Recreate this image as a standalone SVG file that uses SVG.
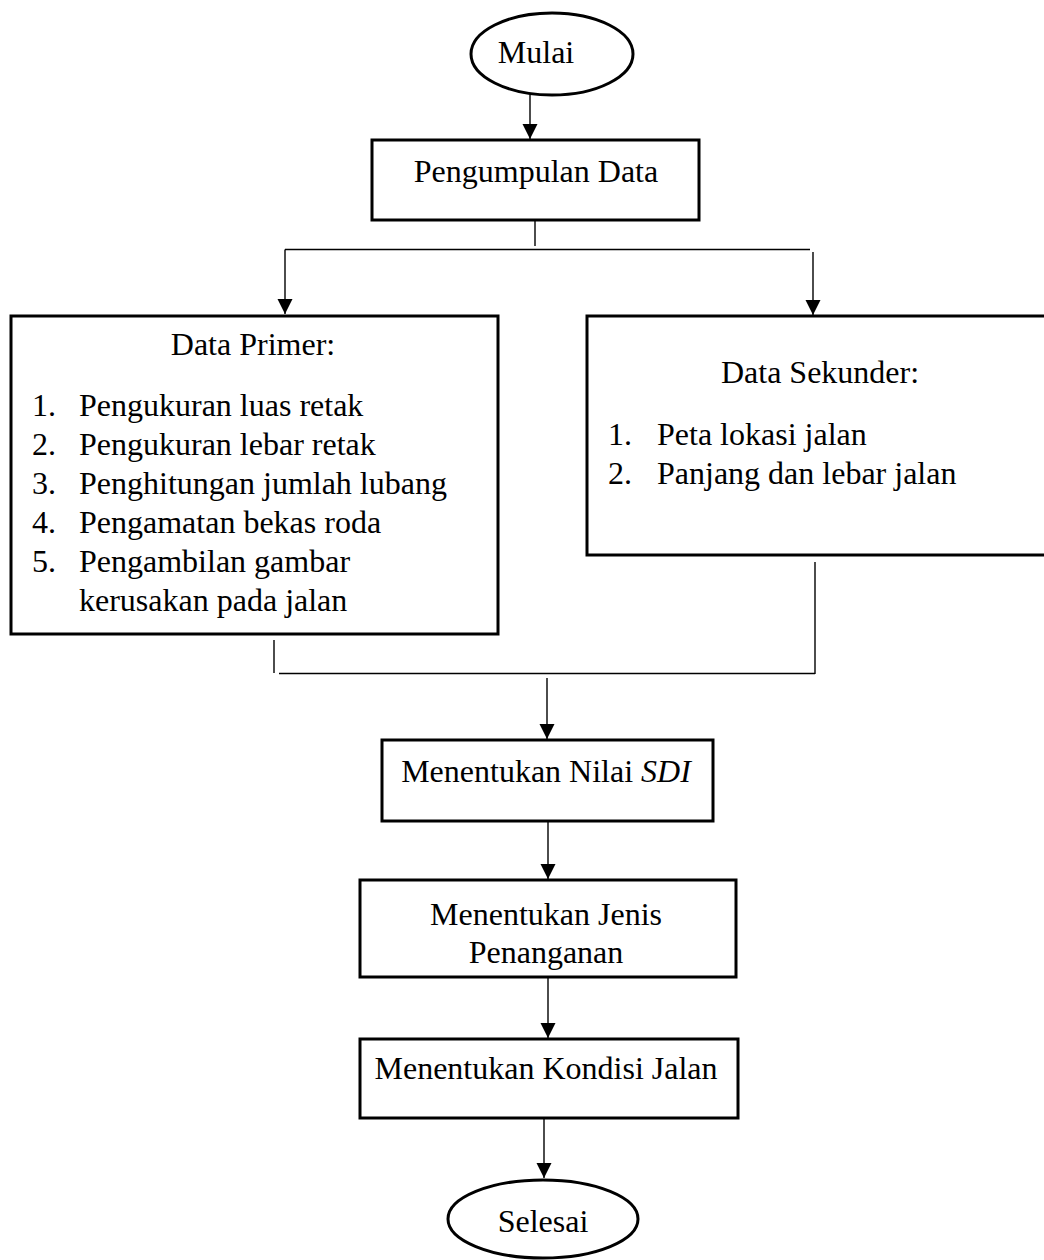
<svg xmlns="http://www.w3.org/2000/svg" width="1044" height="1260" viewBox="0 0 1044 1260">
  <style>
    .shape { fill: #ffffff; stroke: #000000; stroke-width: 3; }
    .line { fill: none; stroke: #000000; stroke-width: 1.4; }
    .label { font-family: "Liberation Serif", "Times New Roman", serif; font-size: 32px; fill: #000000; }
    .mid { text-anchor: middle; }
  </style>
  <defs>
    <marker id="arrowhead" markerUnits="userSpaceOnUse" markerWidth="16" markerHeight="16" refX="15" refY="7.5" orient="auto">
      <path d="M0,0 L15,7.5 L0,15 Z" fill="#000000"/>
    </marker>
  </defs>

  <rect width="1044" height="1260" fill="#ffffff"/>

  <!-- connectors -->
  <g id="connectors">
    <line class="line" x1="530" y1="95" x2="530" y2="139" marker-end="url(#arrowhead)"/>
    <line class="line" x1="535" y1="220" x2="535" y2="246"/>
    <line class="line" x1="285" y1="249.5" x2="810" y2="249.5"/>
    <line class="line" x1="285" y1="249.5" x2="285" y2="314" marker-end="url(#arrowhead)"/>
    <line class="line" x1="813" y1="252" x2="813" y2="315" marker-end="url(#arrowhead)"/>
    <line class="line" x1="274" y1="640" x2="274" y2="673"/>
    <line class="line" x1="279" y1="673.5" x2="815" y2="673.5"/>
    <line class="line" x1="815" y1="562" x2="815" y2="674"/>
    <line class="line" x1="547" y1="678" x2="547" y2="739" marker-end="url(#arrowhead)"/>
    <line class="line" x1="548" y1="821" x2="548" y2="879" marker-end="url(#arrowhead)"/>
    <line class="line" x1="548" y1="978" x2="548" y2="1038" marker-end="url(#arrowhead)"/>
    <line class="line" x1="544" y1="1119" x2="544" y2="1178" marker-end="url(#arrowhead)"/>
  </g>

  <!-- start -->
  <g id="mulai">
    <ellipse class="shape" cx="552" cy="54" rx="81" ry="41"/>
    <text class="label mid" x="536" y="63">Mulai</text>
  </g>

  <g id="pengumpulan-data">
    <rect class="shape" x="372" y="140" width="327" height="80"/>
    <text class="label mid" x="536" y="182">Pengumpulan Data</text>
  </g>

  <g id="data-primer">
    <rect class="shape" x="11" y="316" width="487" height="318"/>
    <text class="label mid" x="253" y="355">Data Primer:</text>
    <text class="label">
      <tspan x="32" y="416">1.</tspan><tspan x="79" y="416">Pengukuran luas retak</tspan>
      <tspan x="32" y="455">2.</tspan><tspan x="79" y="455">Pengukuran lebar retak</tspan>
      <tspan x="32" y="494">3.</tspan><tspan x="79" y="494">Penghitungan jumlah lubang</tspan>
      <tspan x="32" y="533">4.</tspan><tspan x="79" y="533">Pengamatan bekas roda</tspan>
      <tspan x="32" y="572">5.</tspan><tspan x="79" y="572">Pengambilan gambar</tspan>
      <tspan x="79" y="611">kerusakan pada jalan</tspan>
    </text>
  </g>

  <g id="data-sekunder">
    <rect class="shape" x="587" y="316" width="470" height="239"/>
    <text class="label mid" x="820" y="383">Data Sekunder:</text>
    <text class="label">
      <tspan x="608" y="445">1.</tspan><tspan x="657" y="445">Peta lokasi jalan</tspan>
      <tspan x="608" y="484">2.</tspan><tspan x="657" y="484">Panjang dan lebar jalan</tspan>
    </text>
  </g>

  <g id="nilai-sdi">
    <rect class="shape" x="382" y="740" width="331" height="81"/>
    <text class="label mid" x="546" y="782">Menentukan Nilai <tspan font-style="italic">SDI</tspan></text>
  </g>

  <g id="jenis-penanganan">
    <rect class="shape" x="360" y="880" width="376" height="97"/>
    <text class="label mid" x="546" y="925">Menentukan Jenis</text>
    <text class="label mid" x="546" y="963">Penanganan</text>
  </g>

  <g id="kondisi-jalan">
    <rect class="shape" x="360" y="1039" width="378" height="79"/>
    <text class="label mid" x="546" y="1079">Menentukan Kondisi Jalan</text>
  </g>

  <!-- end -->
  <g id="selesai">
    <ellipse class="shape" cx="543" cy="1219" rx="95" ry="39"/>
    <text class="label mid" x="543" y="1232">Selesai</text>
  </g>
</svg>
